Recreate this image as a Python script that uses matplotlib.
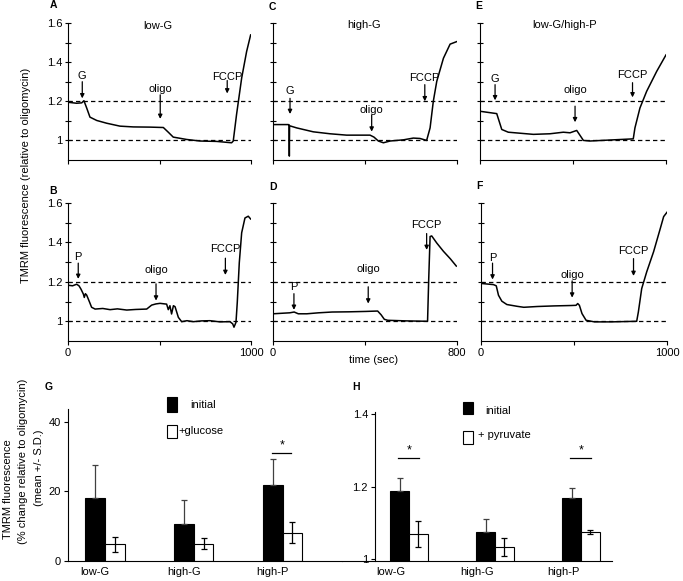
import numpy as np
import matplotlib
matplotlib.use('Agg')
import matplotlib.pyplot as plt
from matplotlib.patches import Rectangle

plt.rcParams['font.family'] = ['Liberation Sans', 'DejaVu Sans']
plt.rcParams['font.size'] = 8

# ---- traces: time (sec) vs TMRM fluorescence (relative to oligomycin) ----
a_t = [0, 47, 75, 87, 102, 120, 157, 211, 284, 357, 448, 521, 548, 575, 648, 721, 812, 894, 903, 921, 949, 976, 998]
a_v = [1.195, 1.19, 1.192, 1.203, 1.166, 1.119, 1.102, 1.088, 1.073, 1.069, 1.068, 1.066, 1.042, 1.017, 1.005,
       0.997, 0.995, 0.988, 0.997, 1.132, 1.319, 1.454, 1.539]

b_t = [0, 25, 47, 60, 71, 84, 89, 95, 102, 117, 129, 148, 190, 230, 270, 321, 370, 430, 457, 480, 503, 539, 548,
       557, 566, 576, 585, 603, 621, 650, 685, 730, 776, 830, 885, 900, 907, 918, 925, 936, 949, 967, 985, 998]
b_v = [1.183, 1.18, 1.188, 1.18, 1.163, 1.138, 1.121, 1.14, 1.133, 1.099, 1.071, 1.062, 1.065, 1.059, 1.063,
       1.057, 1.06, 1.062, 1.082, 1.088, 1.091, 1.087, 1.059, 1.079, 1.037, 1.079, 1.074, 1.02, 0.998, 1.003,
       0.998, 1.002, 1.003, 0.997, 0.998, 0.987, 0.97, 0.995, 1.096, 1.297, 1.449, 1.524, 1.533, 1.519]

c_t = [0, 66, 70, 71, 72, 103, 175, 248, 320, 422, 439, 458, 480, 509, 567, 610, 639, 668, 683, 697, 712, 741, 770, 799]
c_v = [1.081, 1.081, 1.08, 0.92, 1.075, 1.064, 1.044, 1.034, 1.027, 1.027, 1.017, 0.997, 0.988, 0.997, 1.003,
       1.012, 1.01, 1.0, 1.064, 1.2, 1.302, 1.42, 1.492, 1.505]

d_t = [0, 73, 92, 110, 147, 198, 257, 330, 404, 455, 470, 484, 499, 580, 672, 677, 683, 690, 712, 741, 771, 797]
d_v = [1.038, 1.043, 1.047, 1.038, 1.038, 1.043, 1.047, 1.048, 1.05, 1.052, 1.033, 1.01, 1.005, 1.002, 1.0,
       1.213, 1.43, 1.433, 1.397, 1.355, 1.317, 1.28]

e_t = [0, 90, 117, 152, 287, 376, 448, 484, 520, 556, 591, 824, 833, 860, 896, 950, 1000]
e_v = [1.149, 1.137, 1.056, 1.042, 1.031, 1.034, 1.042, 1.039, 1.051, 1.0, 0.997, 1.008, 1.064, 1.166, 1.251,
       1.353, 1.437]

f_t = [0, 67, 82, 94, 112, 139, 194, 230, 303, 393, 484, 511, 520, 529, 543, 565, 610, 701, 837, 846, 864, 891,
       928, 964, 982, 1000]
f_v = [1.192, 1.186, 1.18, 1.132, 1.102, 1.085, 1.076, 1.071, 1.075, 1.078, 1.08, 1.081, 1.09, 1.081, 1.039,
       1.005, 0.997, 0.997, 1.0, 1.047, 1.166, 1.251, 1.353, 1.471, 1.531, 1.553]

# annotations: (label, time, text level, arrow start, arrow tip)
a_notes = [('G', 78, 1.33, 1.30, 1.215), ('oligo', 504, 1.262, 1.233, 1.11), ('FCCP', 870, 1.323, 1.306, 1.24)]
b_notes = [('P', 56, 1.328, 1.295, 1.215), ('oligo', 481, 1.26, 1.19, 1.105), ('FCCP', 860, 1.368, 1.32, 1.235)]
c_notes = [('G', 74, 1.251, 1.215, 1.135), ('oligo', 429, 1.158, 1.13, 1.045), ('FCCP', 660, 1.319, 1.285, 1.2)]
d_notes = [('P', 91, 1.172, 1.14, 1.058), ('oligo', 414, 1.263, 1.175, 1.09), ('FCCP', 668, 1.488, 1.445, 1.362)]
e_notes = [('G', 81, 1.315, 1.285, 1.205), ('oligo', 511, 1.259, 1.175, 1.093), ('FCCP', 820, 1.336, 1.295, 1.22)]
f_notes = [('P', 62, 1.319, 1.295, 1.212), ('oligo', 490, 1.237, 1.205, 1.12), ('FCCP', 820, 1.356, 1.318, 1.23)]

# ---- summary bars ----
groups = ['low-G', 'high-G', 'high-P']
g_init = [18.1, 10.5, 21.8]
g_init_sd = [9.3, 7.1, 7.4]
g_glu = [4.8, 5.0, 8.1]
g_glu_sd = [2.2, 1.7, 3.0]

h_init = [1.188, 1.075, 1.167]
h_init_sd = [0.036, 0.035, 0.030]
h_pyr = [1.069, 1.032, 1.075]
h_pyr_sd = [0.036, 0.025, 0.006]

fig = plt.figure(figsize=(6.83, 5.81), dpi=100)
W, H = 683.0, 581.0


def box(x0, y0, x1, y1):
    return [x0 / W, 1 - y1 / H, (x1 - x0) / W, (y1 - y0) / H]


def trace_panel(ax, t, v, xmax, notes, ylab, xlab):
    ax.plot(t, v, color='black', lw=1.1)
    for lvl in (1.0, 1.2):
        ax.axhline(lvl, color='black', lw=0.9, ls=(0, (3.5, 2.5)))
    ax.set_xlim(0, xmax)
    ax.set_ylim(0.9, 1.6)
    ax.spines['top'].set_visible(False)
    ax.spines['right'].set_visible(False)
    ax.set_yticks(np.arange(1.0, 1.61, 0.1))
    ax.set_xticks([0, xmax / 2, xmax])
    if ylab:
        ax.set_yticklabels(['1', '', '1.2', '', '1.4', '', '1.6'])
    else:
        ax.set_yticklabels([])
    if xlab:
        ax.set_xticklabels(['0', '', str(xmax)])
    else:
        ax.set_xticklabels([])
    ax.tick_params(axis='y', direction='inout', length=4, width=0.8, pad=2)
    ax.tick_params(axis='x', direction='out', length=3, width=0.8, pad=2)
    for lab, x, ty, y0, y1 in notes:
        ax.annotate('', xy=(x, y1), xytext=(x, y0),
                    arrowprops=dict(arrowstyle='-|>', color='black', lw=0.9, mutation_scale=6,
                                    shrinkA=0, shrinkB=0))
        ax.text(x, ty, lab, ha='center', va='center', fontsize=8)


axA = fig.add_axes(box(68, 23, 251, 160))
axC = fig.add_axes(box(273, 23, 457, 160))
axE = fig.add_axes(box(480, 23, 666, 160))
axB = fig.add_axes(box(68, 203, 251, 341))
axD = fig.add_axes(box(273, 203, 457, 341))
axF = fig.add_axes(box(481, 203, 667, 341))

trace_panel(axA, a_t, a_v, 1000, a_notes, True, False)
trace_panel(axC, c_t, c_v, 800, c_notes, False, False)
trace_panel(axE, e_t, e_v, 1000, e_notes, False, False)
trace_panel(axB, b_t, b_v, 1000, b_notes, True, True)
trace_panel(axD, d_t, d_v, 800, d_notes, False, True)
trace_panel(axF, f_t, f_v, 1000, f_notes, False, True)

fig.text(158 / W, 1 - 26 / H, 'low-G', ha='center', va='center')
fig.text(364 / W, 1 - 25 / H, 'high-G', ha='center', va='center')
fig.text(565 / W, 1 - 25 / H, 'low-G/high-P', ha='center', va='center')
fig.text(26 / W, 1 - 175 / H, 'TMRM fluorescence (relative to oligomycin)', rotation=90,
         ha='center', va='center')
fig.text(374 / W, 1 - 360 / H, 'time (sec)', ha='center', va='center')

for lab, x, y in [('A', 53, 5), ('B', 53, 191), ('C', 272, 7), ('D', 273, 187), ('E', 479, 6),
                  ('F', 479, 186), ('G', 49, 387), ('H', 356, 387)]:
    fig.text(x / W, 1 - y / H, lab, ha='center', va='center', fontsize=7.5, fontweight='bold')

# ---- bar panels ----
w = 0.22
pos = np.arange(len(groups))


def bar_panel(ax, init, init_sd, second, second_sd, lab_off):
    ax.bar(pos - w / 2, init, w, color='black', edgecolor='black', lw=0.8)
    ax.bar(pos + w / 2, second, w, color='white', edgecolor='black', lw=0.8)
    ax.errorbar(pos - w / 2, init, yerr=[[0] * len(pos), init_sd], fmt='none', ecolor='#404040',
                elinewidth=0.9, capsize=2.5, capthick=0.9)
    ax.errorbar(pos + w / 2, second, yerr=second_sd, fmt='none', ecolor='black',
                elinewidth=0.9, capsize=2.5, capthick=0.9)
    ax.spines['top'].set_visible(False)
    ax.spines['right'].set_visible(False)
    ax.set_xticks(pos - w / 2 + lab_off)
    ax.set_xticklabels(groups)
    ax.tick_params(axis='x', length=0, pad=4)
    ax.tick_params(axis='y', direction='out', length=3, width=0.8, pad=2)


def legend_box(ax, x0, y_b, h_b, x_t, y_t, color, label, xw):
    ax.add_patch(Rectangle((x0, y_b), xw, h_b, transform=ax.transAxes, clip_on=False,
                           facecolor=color, edgecolor='black', lw=0.8))
    ax.text(x_t, y_t, label, transform=ax.transAxes, ha='left', va='center')


axG = fig.add_axes(box(68, 409, 342, 561))
bar_panel(axG, g_init, g_init_sd, g_glu, g_glu_sd, 0.0)
axG.set_xlim(-0.417, 2.669)
axG.set_ylim(0, 43.6)
axG.set_yticks([0, 20, 40])
legend_box(axG, 0.361, 0.980, 0.099, 0.445, 1.026, 'black', 'initial', 0.037)
legend_box(axG, 0.361, 0.809, 0.086, 0.402, 0.855, 'white', '+glucose', 0.037)
axG.plot([1.88, 2.10], [31.0, 31.0], color='black', lw=0.9)
axG.text(1.99, 31.3, '*', ha='center', va='bottom', fontsize=9)

fig.text(8 / W, 1 - 489 / H, 'TMRM fluorescence', rotation=90, ha='center', va='center')
fig.text(23 / W, 1 - 461 / H, '(% change relative to oligomycin)', rotation=90, ha='center', va='center')
fig.text(39 / W, 1 - 468 / H, '(mean +/- S.D.)', rotation=90, ha='center', va='center')

axH = fig.add_axes(box(342, 412, 612, 561))
bar_panel(axH, h_init, h_init_sd, h_pyr, h_pyr_sd, -0.1)
axH.set_xlim(-0.779, 2.36)
axH.set_ylim(0.9945, 1.4055)
axH.set_yticks([1.0, 1.2, 1.4])
axH.set_yticklabels(['1', '1.2', '1.4'])
axH.spines['left'].set_position(('data', -0.395))
legend_box(axH, 0.448, 0.987, 0.080, 0.53, 1.007, 'black', 'initial', 0.037)
legend_box(axH, 0.448, 0.785, 0.087, 0.504, 0.846, 'white', '+ pyruvate', 0.037)
for gx in (0, 2):
    axH.plot([gx - 0.13, gx + 0.12], [1.279, 1.279], color='black', lw=0.9)
    axH.text(gx, 1.282, '*', ha='center', va='bottom', fontsize=9)

fig.savefig('out.png', dpi=100)
